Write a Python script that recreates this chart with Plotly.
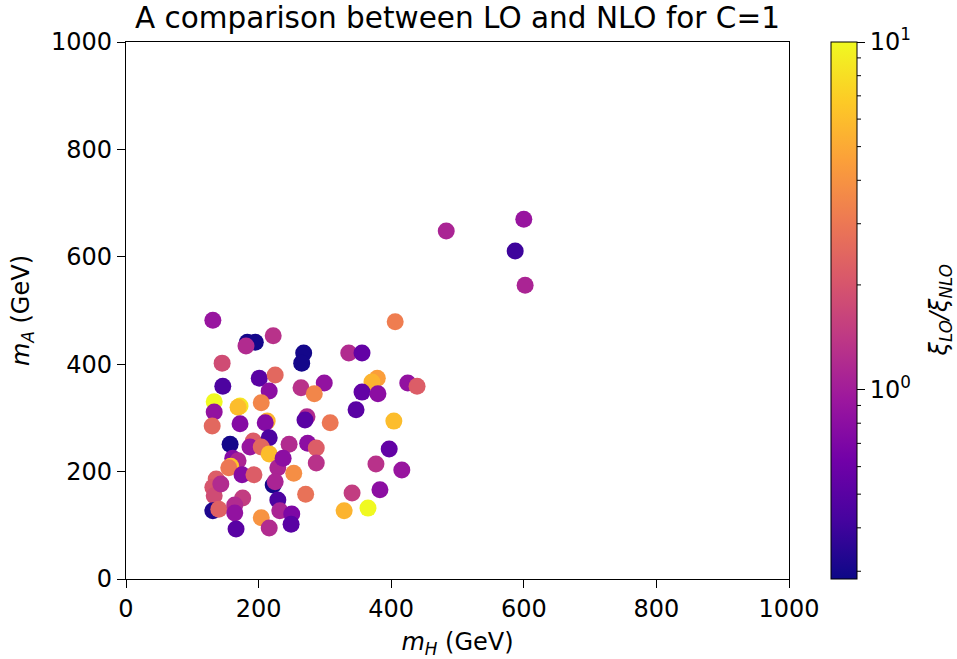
import numpy as np
import plotly.graph_objects as go

# m_H (GeV), m_A (GeV), xi_LO/xi_NLO
m_H = [131, 183, 195, 181, 222, 145, 146, 201, 225, 216, 268, 265, 264, 299, 284,
       336, 356, 406, 379, 371, 356, 380, 425, 439, 347, 404, 133, 133, 172, 169,
       204, 130, 172, 213, 210, 273, 270, 308, 157, 192, 216, 187, 204, 216, 246,
       274, 287, 397, 161, 169, 158, 155, 175, 193, 229, 237, 253, 287, 377, 416,
       222, 225, 271, 341, 383, 136, 131, 133, 143, 131, 140, 176, 164, 164, 229,
       232, 250, 249, 204, 216, 166, 329, 365, 483, 600, 587, 602]
m_A = [482, 441, 441, 434, 453, 402, 359, 374, 380, 350, 421, 402, 356, 365, 345,
       421, 421, 479, 374, 367, 348, 345, 365, 359, 315, 294, 330, 311, 322, 320,
       328, 285, 289, 294, 291, 302, 296, 291, 251, 257, 263, 246, 246, 233, 251,
       253, 244, 242, 225, 220, 210, 207, 194, 194, 207, 225, 197, 216, 214, 203,
       175, 181, 158, 160, 166, 186, 171, 155, 177, 127, 130, 151, 138, 123, 147,
       127, 121, 102, 114, 95, 93, 127, 132, 648, 670, 611, 547]
ratio = [0.9, 0.3, 0.3, 1.2, 1.3, 1.8, 0.45, 0.5, 2.5, 0.8, 0.3, 0.3, 1.3, 0.85, 3.5,
         1.2, 0.55, 3.2, 4.5, 5.5, 0.55, 0.8, 0.85, 2.2, 0.5, 6.0, 10.0, 0.85, 8.5, 6.0,
         3.5, 2.5, 0.75, 5.5, 0.75, 1.2, 0.5, 3.0, 0.3, 2.2, 0.45, 0.9, 2.5, 6.0, 1.2,
         0.8, 2.2, 0.55, 0.75, 1.1, 6.5, 3.0, 0.75, 2.2, 1.1, 0.8, 3.8, 1.3, 1.3, 0.9,
         0.3, 1.1, 2.8, 1.5, 0.8, 2.2, 2.0, 1.8, 1.2, 0.32, 2.3, 1.5, 1.2, 0.85, 0.45,
         1.1, 0.7, 0.5, 4.0, 1.2, 0.5, 5.5, 10.0, 1.1, 0.9, 0.4, 1.1]

x_ticks = [0, 200, 400, 600, 800, 1000]
y_ticks = [0, 200, 400, 600, 800, 1000]
cb_ticks = [0, 1]
cb_ticktext = ["10<sup>0</sup>", "10<sup>1</sup>"]
cb_minor = [0.3, 0.4, 0.5, 0.6, 0.7, 0.8, 0.9, 2, 3, 4, 5, 6, 7, 8, 9]

CMIN, CMAX = np.log10(0.285), 1.0
FONT = "DejaVu Sans"
TICK_SIZE = 24

fig = go.Figure()
fig.add_trace(go.Scatter(
    x=m_H, y=m_A, mode="markers",
    marker=dict(
        size=17, color=np.log10(ratio), colorscale="Plasma",
        cmin=CMIN, cmax=CMAX, line=dict(width=0),
        colorbar=dict(
            tickvals=cb_ticks, ticktext=cb_ticktext,
            ticks="outside", ticklen=8, tickwidth=1, tickcolor="black",
            outlinewidth=1, outlinecolor="black",
            thickness=26, thicknessmode="pixels",
            len=1, lenmode="fraction", y=0.5, yanchor="middle",
            x=1.0633, xanchor="left", xpad=0, ypad=0,
            tickfont=dict(family=FONT, size=TICK_SIZE, color="black"),
        ),
    ),
    showlegend=False,
))

# minor ticks on colorbar (log scale)
x0 = (857 - 126) / 663
shapes = []
for v in cb_minor:
    yy = (np.log10(v) - CMIN) / (CMAX - CMIN)
    shapes.append(dict(type="line", xref="paper", yref="paper",
                       x0=x0, x1=x0 + 4 / 663, y0=yy, y1=yy,
                       line=dict(color="black", width=1)))

axis_common = dict(
    showgrid=False, zeroline=False, showline=True, linecolor="black", linewidth=1.3,
    mirror=True, ticks="outside", ticklen=8, tickwidth=1.2, tickcolor="black",
    tickfont=dict(family=FONT, size=TICK_SIZE, color="black"),
)

fig.update_layout(
    width=957, height=659,
    margin=dict(l=126, r=168, t=42, b=80),
    paper_bgcolor="white", plot_bgcolor="white",
    title=dict(text="A comparison between LO and NLO for C=1", x=0.478, xanchor="center",
               xref="container", yref="container",
               y=1 - 18 / 659, yanchor="middle",
               font=dict(family=FONT, size=29.5, color="black")),
    xaxis=dict(range=[0, 1000], tickvals=x_ticks, automargin=False,
               title=dict(text="<i>m<sub>H</sub></i> (GeV)", standoff=12,
                          font=dict(family=FONT, size=TICK_SIZE, color="black")),
               **axis_common),
    yaxis=dict(range=[0, 1000], tickvals=y_ticks, automargin=False,
               title=dict(text="<i>m<sub>A</sub></i> (GeV)", standoff=14,
                          font=dict(family=FONT, size=TICK_SIZE, color="black")),
               **axis_common),
    shapes=shapes,
    annotations=[dict(text="<i>ξ<sub>LO</sub>/ξ<sub>NLO</sub></i>", textangle=-90,
                      xref="paper", yref="paper", x=(940 - 126) / 663, y=0.5,
                      xanchor="center", yanchor="middle", showarrow=False,
                      font=dict(family=FONT, size=TICK_SIZE, color="black"))],
)

fig.write_html("out.html")
